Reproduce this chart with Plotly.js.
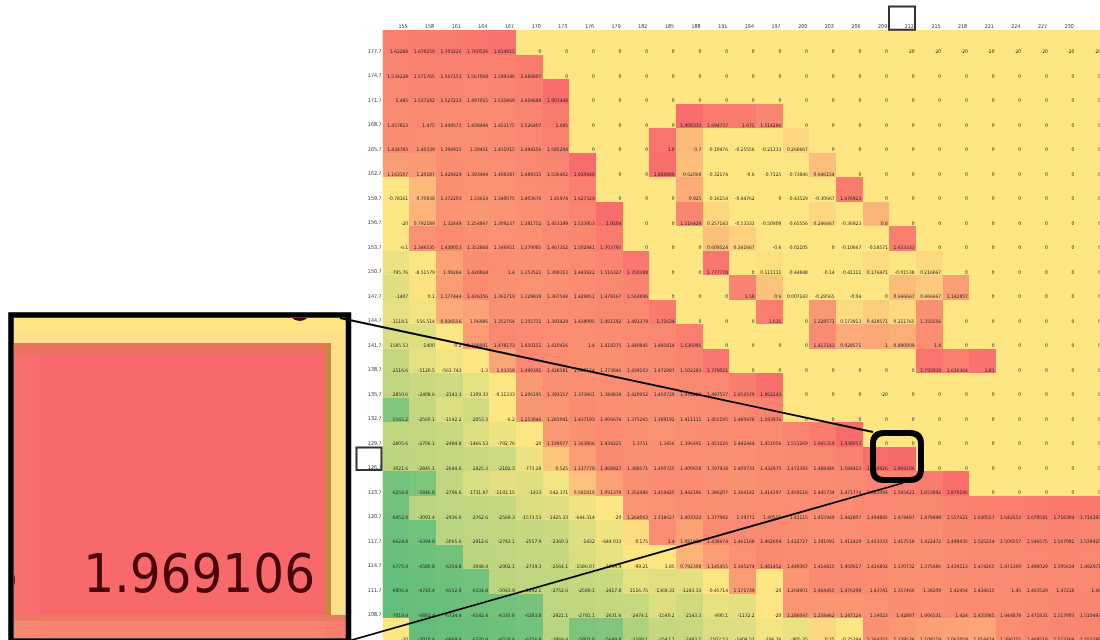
<!DOCTYPE html>
<html><head><meta charset="utf-8">
<script src="https://cdn.plot.ly/plotly-3.0.1.min.js"></script>
<style>html,body{margin:0;padding:0;background:#fff;overflow:hidden}#chart{width:1100px;height:640px;filter:blur(0.35px)}</style>
</head><body><div id="chart"></div>
<script>
const columns = [155,158,161,164,167,170,173,176,179,182,185,188,191,194,197,200,203,206,209,212,215,218,221,224,227,230,233];
const rowLabels = [177.7,174.7,171.7,168.7,165.7,162.7,159.7,156.7,153.7,150.7,147.7,144.7,141.7,138.7,135.7,132.7,129.7,126.7,123.7,120.7,117.7,114.7,111.7,108.7,105.7];
const r177 = [1.62288,1.678259,1.703226,1.760526,1.814815,0,0,0,0,0,0,0,0,0,0,0,0,0,0,-20,-20,-20,-20,-20,-20,-20,-20];
const r174 = [1.534228,1.571765,1.567153,1.567068,1.599346,1.686807,0,0,0,0,0,0,0,0,0,0,0,0,0,0,0,0,0,0,0,0,0];
const r171 = [1.485,1.537282,1.527213,1.497015,1.535869,1.604688,1.903448,0,0,0,0,0,0,0,0,0,0,0,0,0,0,0,0,0,0,0,0];
const r168 = [1.457813,1.475,1.449573,1.438494,1.453175,1.526407,1.695,0,0,0,0,1.908333,1.694737,1.675,1.514286,0,0,0,0,0,0,0,0,0,0,0,0];
const r165 = [1.434783,1.40339,1.394915,1.39451,1.431915,1.494156,1.585294,0,0,0,1.8,0.7,-0.10476,-0.25556,-0.21333,0.266667,0,0,0,0,0,0,0,0,0,0,0];
const r162 = [1.163107,1.20187,1.428429,1.393464,1.408387,1.489315,1.536402,1.910448,0,0,1.888889,0.62069,-0.32174,-0.6,-0.7125,-0.73846,0.646154,0,0,0,0,0,0,0,0,0,0];
const r159 = [-0.78161,0.70838,1.372203,1.33614,1.340075,1.403676,1.45974,1.627329,0,0,0,0.925,-0.16154,-0.44762,0,-0.43529,-0.30667,1.676923,0,0,0,0,0,0,0,0,0];
const r156 = [-20,0.792189,1.32449,1.254867,1.309237,1.381752,1.453199,1.533953,1.9104,0,0,1.516429,0.257143,-0.53333,-0.50909,-0.65556,0.246667,-0.36923,0.8,0,0,0,0,0,0,0,0];
const r153 = [-6.1,1.346535,1.438053,1.352868,1.346951,1.379085,1.467352,1.502941,1.703797,0,0,0,0.609524,0.341667,-0.6,-0.02105,0,-0.10667,-0.58571,1.633333,0,0,0,0,0,0,0];
const r150 = [-795.76,-8.51579,1.08284,1.428824,1.4,1.353521,1.399313,1.443922,1.516327,1.750388,0,0,1.777778,0,0.111111,-0.44848,-0.14,-0.41111,0.176471,-0.01538,0.216667,0,0,0,0,0,0];
const r147 = [-1407,0.1,1.177444,1.436356,1.361719,1.329839,1.367568,1.429851,1.479167,1.563896,0,0,0,1.58,0.6,0.007143,-0.29565,-0.04,0,0.666667,0.466667,1.142857,0,0,0,0,0];
const r144 = [-1118.1,-556.514,0.936556,1.06986,1.352764,1.355731,1.391429,1.438095,1.491192,1.491379,1.71634,0,0,0,1.635,0,1.228571,0.173913,0.428571,0.211765,1.355556,0,0,0,0,0,0];
const r141 = [-1585.53,-1400,-0.2,1.188991,1.478173,1.450151,1.410416,1.4,1.418375,1.440845,1.495814,1.636095,0,0,0,0,1.417143,0.928571,1,0.890909,1.4,0,0,0,0,0,0];
const r138 = [-2516.6,-1120.5,-563.743,-1.3,1.03358,1.490391,1.428581,1.369124,1.373846,1.439103,1.472997,1.502283,1.779021,0,0,0,0,0,0,0,1.793939,1.636364,1.81,0,0,0,0];
const r135 = [-2850.6,-2408.6,-2143.3,-1109.33,-0.11333,1.206195,1.393157,1.373861,1.384838,1.420952,1.450729,1.478229,1.497537,1.656579,1.862243,0,0,0,-20,0,0,0,0,0,0,0,0];
const r132 = [-5565.2,-2560.1,-1542.2,-2053.3,-6.2,1.253846,1.283041,1.437193,1.406676,1.375265,1.389192,1.411111,1.455195,1.480478,1.593976,0,0,0,0,0,0,0,0,0,0,0,0];
const r129 = [-2805.6,-2706.1,-2484.8,-1466.53,-792.76,-20,1.199077,1.363866,1.438225,1.3751,1.3456,1.396491,1.451226,1.442444,1.451056,1.551269,1.665359,1.938053,0,0,0,0,0,0,0,0,0];
const r126 = [-3021.6,-2845.1,-2644.6,-2425.3,-2182.3,-773.28,0.525,1.137778,1.468927,1.388571,1.400725,1.400658,1.397938,1.400733,1.432975,1.472393,1.488446,1.594413,1.888926,1.969106,0,0,0,0,0,0,0];
const r123 = [-6258.8,-5846.8,-2796.6,-1731.87,-1191.15,-1433,-542.371,0.581818,1.091379,1.352486,1.459425,1.442196,1.386207,1.366142,1.414397,1.459116,1.445734,1.471774,1.523094,1.565421,1.653892,1.879195,0,0,0,0,0];
const r120 = [-6452.8,-3091.4,-2936.6,-2762.6,-2569.3,-1573.53,-1425.33,-644.314,-20,1.264063,1.318627,1.403333,1.377982,1.39771,1.40555,1.41115,1.415949,1.442807,1.494845,1.474497,1.479498,1.557621,1.630557,1.642553,1.679581,1.716304,1.716393];
const r117 = [-6624.8,-6394.8,-3065.6,-2912.6,-2743.1,-2557.9,-2360.3,-1432,-644.033,0.175,1.4,1.081818,1.438674,1.461168,1.462604,1.422727,1.391093,1.411429,1.433333,1.417518,1.422472,1.499435,1.525234,1.506557,1.546575,1.567081,1.539429];
const r114 = [-6775.4,-6580.8,-6354.8,-3048.4,-2902.1,-2739.3,-2564.1,-1586.07,-1094.9,-99.21,-1.85,0.792308,1.145455,1.345274,1.481452,1.440367,1.414815,1.450617,1.416892,1.370732,1.375686,1.419113,1.474265,1.471369,1.496029,1.505634,1.492971];
const r111 = [-6906.4,-6743.4,-6552.8,-6334.8,-3043.9,-2892.1,-2752.6,-2589.1,-2417.8,-1116.75,-1369.33,-1243.33,-0.45714,1.171739,-20,1.264901,1.464455,1.476398,1.43741,1.357466,1.38209,1.42454,1.434615,1.45,1.463529,1.47218,1.49];
const r108 = [-7019.4,-6883.4,-6724.4,-6542.4,-6335.8,-6103.8,-2921.1,-2781.1,-2631.6,-2474.1,-1540.2,-2143.3,-990.1,-1172.2,-20,1.286047,1.258462,1.247126,1.34023,1.42807,1.406531,1.424,1.435085,1.444878,1.471831,1.517903,1.510497];
const r105 = [-20,-7010.4,-6869.4,-6720.4,-6550.4,-6356.8,-3069.4,-5903.8,-5649.8,-3589.1,-2547.1,-2483.1,-1502.53,-1404.53,-396.76,-905.25,0.25,-0.75294,1.364251,1.239536,1.108219,1.067059,1.014474,1.396755,1.469518,1.512264,1.552299];
const values = [r177,r174,r171,r168,r165,r162,r159,r156,r153,r150,r147,r144,r141,r138,r135,r132,r129,r126,r123,r120,r117,r114,r111,r108,r105];

const W = 1100, H = 640;
const px = x => x / W, py = y => 1 - y / H;
const zmin = -7019.4, zmax = 1.969106;
const t0 = (0 - zmin) / (zmax - zmin);
const colorscale = [[0,'#63BE7B'],[t0,'#FEE782'],[1,'#F8696B']];

const flatX = [], flatY = [], flatT = [];
rowLabels.forEach((r,i) => columns.forEach((c,j) => {
  flatX.push(c + 1.39); flatY.push(r - 1.5 + 0.02); flatT.push(String(values[i][j]));
}));
const insetCols = [209,212], insetRows = [129.7,126.7];
const inX = [], inY = [], inT = [];
insetRows.forEach(r => insetCols.forEach(c => {
  inX.push(c + (c === 209 ? 1.27 : 1.395)); inY.push(r - 1.5 + 0.1);
  inT.push(String(values[rowLabels.indexOf(r)][columns.indexOf(c)]));
}));

const traces = [
  {type:'heatmap', x:columns, y:rowLabels, z:values, zmin, zmax, colorscale, showscale:false, hoverinfo:'skip', xaxis:'x', yaxis:'y'},
  {type:'scatter', mode:'text', x:flatX, y:flatY, text:flatT, textposition:'top left',
   textfont:{family:'"DejaVu Sans Condensed","DejaVu Sans",sans-serif', size:4.9, color:'#222'}, hoverinfo:'skip', showlegend:false, xaxis:'x', yaxis:'y'},
  {type:'heatmap', x:columns, y:rowLabels, z:values, zmin, zmax, colorscale, showscale:false, hoverinfo:'skip', xaxis:'x2', yaxis:'y2'},
  {type:'scatter', mode:'text', x:inX, y:inY, text:inT, textposition:'top left',
   textfont:{family:'"DejaVu Sans Condensed","DejaVu Sans",sans-serif', size:54, color:'#4A0008'}, hoverinfo:'skip', showlegend:false, xaxis:'x2', yaxis:'y2'}
];

const rect = (x0,y0,x1,y1,extra) => Object.assign({type:'rect',xref:'paper',yref:'paper',x0:px(x0),x1:px(x1),y0:py(y0),y1:py(y1),layer:'above'},extra);
const band = (x0,y0,x1,y1,c) => rect(x0,y0,x1,y1,{fillcolor:c,line:{width:0}});
const seg = (x0,y0,x1,y1,w) => ({type:'line',xref:'paper',yref:'paper',x0:px(x0),y0:py(y0),x1:px(x1),y1:py(y1),line:{color:'#000',width:w},layer:'above'});
const rr = (x0,y0,x1,y1,r) => {
  const X=v=>px(v),Y=v=>py(v);
  return `M${X(x0+r)},${Y(y0)} L${X(x1-r)},${Y(y0)} Q${X(x1)},${Y(y0)} ${X(x1)},${Y(y0+r)} L${X(x1)},${Y(y1-r)} Q${X(x1)},${Y(y1)} ${X(x1-r)},${Y(y1)} L${X(x0+r)},${Y(y1)} Q${X(x0)},${Y(y1)} ${X(x0)},${Y(y1-r)} L${X(x0)},${Y(y0+r)} Q${X(x0)},${Y(y0)} ${X(x0+r)},${Y(y0)} Z`;
};

const shapes = [
  band(14,330,346,343,'#FFE08A'),
  band(14,343,325,354,'#EA735E'),
  band(325,343,331,615,'#C48A40'),
  band(331,343,346,615,'#FFDF8C'),
  band(14,615,346,621,'#EC7A60'),
  seg(340,318,873,432,1.8),
  seg(350,640.5,903,483,1.8),
  rect(11,315,348.5,641,{line:{color:'#000',width:5.5},fillcolor:'rgba(0,0,0,0)'}),
  {type:'path',xref:'paper',yref:'paper',path:rr(873,433,921,480,11),line:{color:'#000',width:6},fillcolor:'rgba(0,0,0,0)',layer:'above'},
  rect(889,6.5,915,29.7,{line:{color:'#333',width:2},fillcolor:'rgba(0,0,0,0)'}),
  rect(356.5,447.5,381.5,470,{line:{color:'#333',width:2},fillcolor:'rgba(0,0,0,0)'})
];

const tickFont = {family:'"DejaVu Sans Condensed","DejaVu Sans",sans-serif', size:5.3, color:'#333'};
const layout = {
  width:W, height:H, margin:{l:0,r:0,t:0,b:0}, paper_bgcolor:'#fff', plot_bgcolor:'#fff', showlegend:false,
  xaxis:{domain:[px(382.5),1], range:[153.5,234.27], side:'top', anchor:'y', tickmode:'array',
    tickvals:columns.map(c=>c+0.8), ticktext:columns.map(String), tickangle:0, ticks:'', showgrid:false, zeroline:false, showline:false, tickfont:tickFont, fixedrange:true, automargin:false},
  yaxis:{domain:[0,py(30)], range:[104.51,179.2], anchor:'x', tickmode:'array',
    tickvals:rowLabels.map(r=>r-1.04), ticktext:rowLabels.map(String), ticks:'', showgrid:false, zeroline:false, showline:false, tickfont:tickFont, fixedrange:true, automargin:false},
  xaxis2:{domain:[px(14),px(346)], range:[210.23,213.72], anchor:'y2', visible:false, fixedrange:true},
  yaxis2:{domain:[py(638),py(318)], range:[124.946,128.476], anchor:'x2', visible:false, fixedrange:true},
  shapes
};
Plotly.newPlot('chart', traces, layout, {displayModeBar:false, staticPlot:true});
</script></body></html>
